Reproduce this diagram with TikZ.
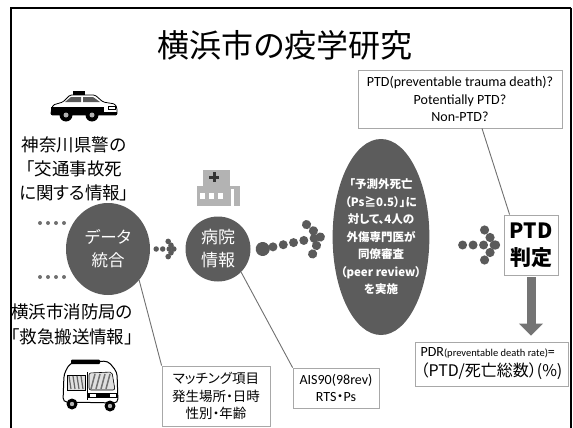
\documentclass[tikz,border=0pt]{standalone}
\usepackage{fontspec}
\setmainfont{Noto Sans CJK JP}[RawFeature=+palt]
\newfontfamily\jpfont{Noto Sans CJK JP}[RawFeature=+palt]
\newfontfamily\latinfont{Carlito}
\usetikzlibrary{arrows.meta,shapes.geometric,decorations.markings,calc}

\definecolor{discgray}{HTML}{5C5C5C}
\definecolor{dotgray}{HTML}{5A5A5A}
\definecolor{feedgray}{HTML}{707070}
\definecolor{boxgray}{HTML}{A8A8A8}
\definecolor{leadgray}{HTML}{707070}
\definecolor{arrowgray}{HTML}{747474}
\definecolor{iconhosp}{HTML}{B3B3B3}

\tikzset{
  disc/.style={fill=discgray, text=white, align=center, inner sep=0pt},
  infobox/.style={draw=boxgray, line width=0.8pt, fill=white, align=center, inner sep=0pt},
  leader/.style={draw=leadgray, line width=0.9pt},
  feed/.style={draw=feedgray, line width=4pt, line cap=round, dash pattern=on 0pt off 8pt},
  dotarrow/.style={draw=dotgray, line width=9pt, line cap=round, dash pattern=on 0pt off 10.5pt,
    postaction={decorate, draw=none, decoration={markings, mark=at position 0.999 with {
      \foreach \a/\b in {0/0,-5.5/7.5,-11/15,-5.5/-7.5,-11/-15} \fill[dotgray] (\a,\b) circle (4.6);}}}},
  smalldotarrow/.style={draw=dotgray, line width=5.5pt, line cap=round, dash pattern=on 0pt off 6.5pt,
    postaction={decorate, draw=none, decoration={markings, mark=at position 0.999 with {
      \foreach \a/\b in {0/0,-2.8/3.8,-5.6/7.6,-2.8/-3.8,-5.6/-7.6} \fill[dotgray] (\a,\b) circle (2.8);}}}},
  bigdot/.style={postaction={decorate, draw=none, decoration={markings, mark=at position 0 with {
      \fill[dotgray] (0,0) circle (7);}}}},
  bigarrow/.style={draw=arrowgray, line width=9pt, -{Triangle[length=12pt,width=24pt,line width=0.8pt]}},
}

\begin{document}
\begin{tikzpicture}[x=1pt,y=-1pt]
\useasboundingbox (0,0) rectangle (573,428);
% frame
\draw[line width=2.8pt] (11,428) -- (11,8) -- (571,8);
\draw[line width=1.8pt] (571,8) -- (571,428);

% title
\node[font=\fontsize{32}{38}\selectfont] (title) at (285,45) {横浜市の疫学研究};

% police car
\filldraw[fill=white, draw=black, line width=0.8pt, rounded corners=1.5pt] (51,112) -- (53,105) -- (63,102) -- (70,95) -- (95,95) -- (103,102) -- (115,104) -- (117,108) -- (117,115) -- (51,115) -- cycle;
\fill[black] (51,107) -- (104,107) -- (104,115) -- (51,115) -- cycle;
\fill[black!65] (65,102) -- (71,97) -- (81,97) -- (81,102) -- cycle;
\fill[black!65] (83,102) -- (83,97) -- (93,97) -- (100,102) -- cycle;
\fill[black] (73,91) rectangle (85,95);
\fill[black] (104,112) rectangle (117,115);
\filldraw[fill=white, draw=black, line width=0.5pt] (108,106) rectangle (115,109);
\foreach \x in {66,92} {\fill[black] (\x,115) circle (6.5); \fill[black!30] (\x,115) circle (2.5);}

% ambulance
\filldraw[fill=white, draw=black, line width=1pt, rounded corners=4pt] (63,402) -- (64,374) -- (70,363) -- (108,361) -- (117,372) -- (118,403) -- cycle;
\fill[black, rounded corners=1pt] (71,359.5) rectangle (100,364);
\filldraw[fill=black!12, draw=black, line width=0.6pt] (67,375) rectangle (85,390);
\foreach \x in {69,73,...,81} \draw[black!60, line width=1.2pt] (\x,376) -- (\x+2,389);
\filldraw[fill=black!12, draw=black, line width=0.6pt, rounded corners=2pt] (89,373) -- (112,372) -- (115,390) -- (89,390) -- cycle;
\foreach \x in {95,100,...,113} \draw[black!55, line width=1.5pt] (\x,374) -- (\x-4,389);
\draw[line width=0.6pt] (87,372) -- (87,400);
\fill[black] (88,393) rectangle (118,398);
\fill[white] (90,394) rectangle (96,397);
\fill[white] (110,394) rectangle (116,397);
\foreach \x/\y in {72/404,110/406} {\fill[black] (\x,\y) circle (5.5); \fill[black!30] (\x,\y) circle (2.2);}

% hospital
\fill[iconhosp] (203,170) rectangle (230,186);
\fill[iconhosp] (197,186) rectangle (240,206);
\fill[black!80] (212.5,172) rectangle (215.5,182);
\fill[black!80] (209,175.5) rectangle (219,178.5);
\foreach \x in {200,209,218} \fill[white] (\x,193) rectangle (\x+5,199);
\fill[white] (231,189) rectangle (233.5,206);

% sources
\node[align=center, font=\fontsize{17.5}{24}\selectfont] (police) at (74,169) {神奈川県警の\\「交通事故死\\に関する情報」};
\node[align=center, font=\fontsize{17.5}{25}\selectfont] (fire) at (72,324.5) {横浜市消防局の\\「救急搬送情報」};

% flow
\node[disc, ellipse, minimum width=84, minimum height=92, font=\fontsize{16.5}{23}\selectfont] (merge) at (108,249) {データ\\統合};
\node[disc, circle, minimum size=65, font=\fontsize{17}{23}\selectfont] (hosp) at (218,249) {病院\\情報};
\node[disc, ellipse, minimum width=96, minimum height=196, inner xsep=-6pt, font=\bfseries\fontsize{11.5}{17.5}\selectfont] (review) at (381,237) {「予測外死亡\\（Ps≧0.5）」に\\対して、4人の\\外傷専門医が\\同僚審査\\（peer review）\\を実施};
\node[infobox, minimum width=54, minimum height=60, font=\bfseries\fontsize{21}{27}\selectfont] (ptd) at (531,245) {PTD\\判定};

% notes
\node[infobox, minimum width=204, minimum height=58, font=\latinfont\fontsize{14}{17.5}\selectfont] (question) at (460,99) {PTD(preventable trauma death)?\\Potentially PTD?\\Non-PTD?};
\node[infobox, minimum width=108, minimum height=60, font=\fontsize{13.5}{17.5}\selectfont] (match) at (216,396) {マッチング項目\\発生場所・日時\\性別・年齢};
\node[infobox, minimum width=86, minimum height=40, font=\latinfont\fontsize{14}{17}\selectfont] (ais) at (336,388) {AIS90(98rev)\\RTS{\jpfont ・}Ps};
\node[infobox, minimum width=153, minimum height=44, align=left, font=\fontsize{16}{20}\selectfont] (pdr) at (491.5,364) {{\latinfont\fontsize{14}{20}\selectfont PDR}{\latinfont\fontsize{10.5}{20}\selectfont(preventable death rate)}{\latinfont\fontsize{14}{20}\selectfont =}\\（PTD/死亡総数）(\%)};

% connectors
\coordinate (policein) at (40,223);
\coordinate (firein) at (40,277);
\draw[feed] (policein) -- (policein -| merge.west);
\draw[feed] (firein) -- (firein -| merge.west);
\draw[smalldotarrow] ([xshift=6]merge.east) -- ([xshift=-11.5]hosp.west);
\draw[dotarrow, bigdot] ([xshift=12]hosp.east) -- ([xshift=-12]review.west);
\draw[dotarrow] ($(review.east |- ptd.west)+(33,0)$) -- ([xshift=-8]ptd.west);
\draw[bigarrow, shorten <=2pt, shorten >=6pt] (ptd.south) -- (ptd.south |- pdr.north);
\draw[leader] (merge.-45) -- (match.north west);
\draw[leader] (hosp.-45) -- (ais.north west);
\draw[leader] ([xshift=22]question.south) -- ([xshift=6]ptd.north west);
\end{tikzpicture}
\end{document}
